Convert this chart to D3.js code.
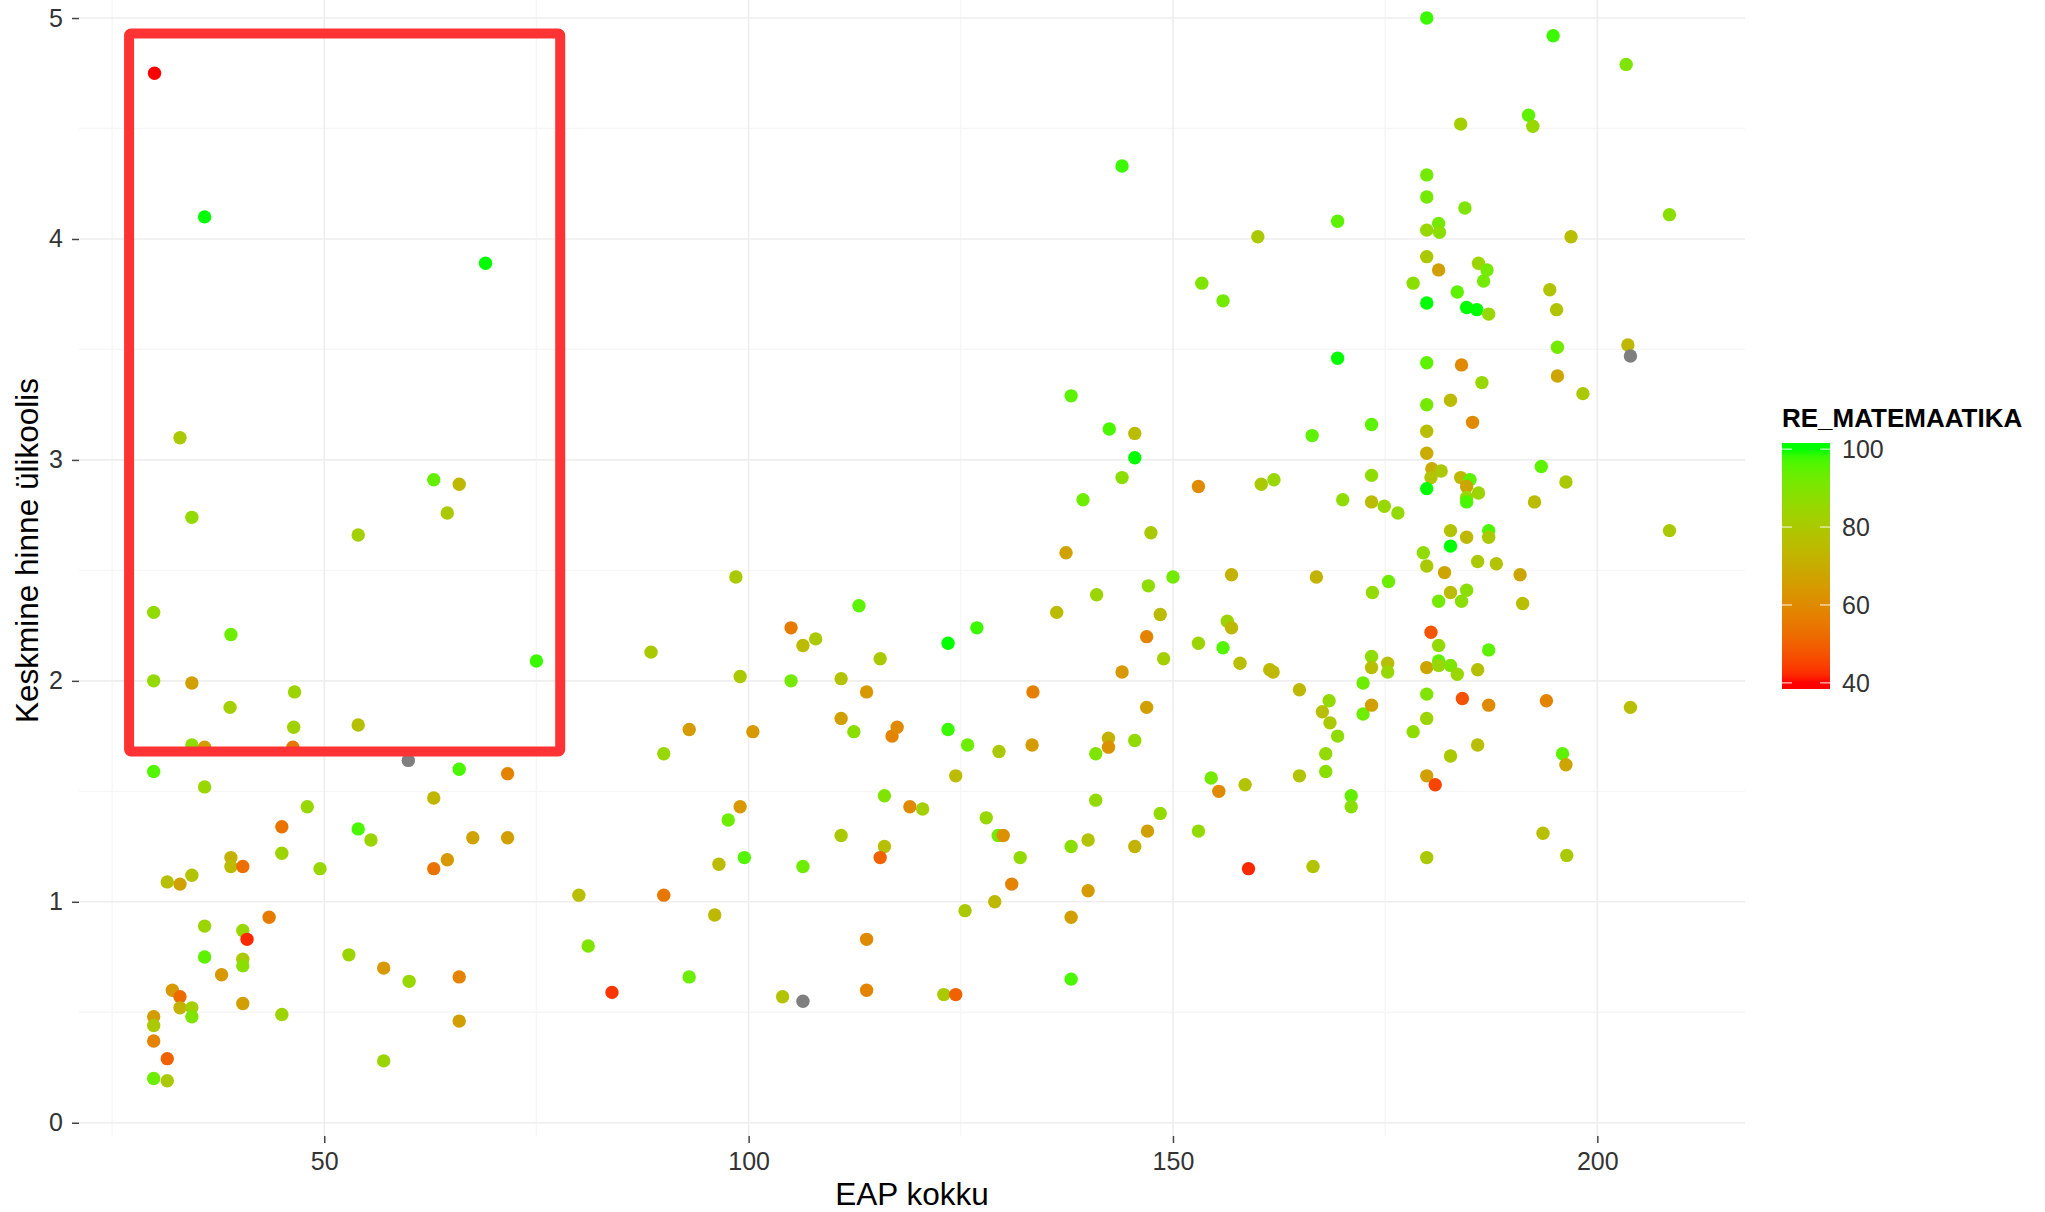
<!DOCTYPE html>
<html>
<head>
<meta charset="utf-8">
<script src="https://cdn.jsdelivr.net/npm/d3@7"></script>
<style>
  html, body { margin: 0; padding: 0; background: #ffffff; }
  svg { display: block; font-family: "Liberation Sans", Arial, Helvetica, sans-serif; }
</style>
</head>
<body>
<svg id="chart" width="2045" height="1212"></svg>
<script>
// ---- DATA: [EAP kokku, Keskmine hinne ülikoolis, RE_MATEMAATIKA] (null = NA) ----
const pointsLeft = [
  [30.0,4.75,40],[35.9,4.10,100],[69.0,3.89,100],[33.0,3.10,80],[34.4,2.74,86],[62.9,2.91,94],
  [65.9,2.89,74],[54.0,2.66,82],[64.5,2.76,80],[29.9,2.31,86],[39.0,2.21,93],[29.9,2.00,86],
  [34.4,1.99,66],[38.9,1.88,82],[46.5,1.95,84],[46.4,1.79,83],[54.0,1.80,77],[75.0,2.09,98],
  [34.4,1.71,87],[35.9,1.70,65],[46.3,1.70,55],[29.9,1.59,96],[35.9,1.52,85],[48.0,1.43,85],
  [59.9,1.64,null],[65.9,1.60,97],[71.6,1.58,58],[62.9,1.47,73],[45.0,1.34,54],[54.0,1.33,97],
  [55.5,1.28,84],[67.5,1.29,67],[71.6,1.29,66],[39.0,1.20,72],[39.0,1.16,75],[40.4,1.16,53],
  [45.0,1.22,84],[49.5,1.15,85],[64.5,1.19,64],[62.9,1.15,54],[31.5,1.09,77],[33.0,1.08,67],
  [34.4,1.12,78],[43.5,0.93,56],[35.9,0.89,84],[40.4,0.87,85],[40.9,0.83,42],[35.9,0.75,95],
  [40.4,0.74,80],[40.4,0.71,88],[37.9,0.67,64],[52.9,0.76,84],[57.0,0.70,64],[60.0,0.64,85],
  [65.9,0.66,58],[32.1,0.60,64],[33.0,0.57,52],[33.0,0.52,72],[34.4,0.52,82],[34.4,0.48,90],
  [40.4,0.54,66],[45.0,0.49,84],[65.9,0.46,66],[29.9,0.48,65],[29.9,0.44,80],[29.9,0.37,58],
  [31.5,0.29,50],[29.9,0.20,93],[31.5,0.19,80],[57.0,0.28,84]
];
const pointsMid = [
  [80.0,1.03,76],[81.1,0.80,90],[83.9,0.59,43],[88.5,2.13,80],[90.0,1.67,85],[90.0,1.03,55],
  [93.0,1.78,65],[93.0,0.66,93],[96.0,0.94,74],[96.5,1.17,75],[97.6,1.37,93],[98.5,2.47,80],
  [99.0,2.02,80],[99.0,1.43,64],[99.5,1.20,96],[100.5,1.77,64],[104.0,0.57,78],[105.0,2.24,56],
  [105.0,2.00,92],[106.4,2.16,75],[107.9,2.19,80],[106.4,1.16,93],[106.4,0.55,null],[110.9,2.01,78],
  [110.9,1.83,66],[112.4,1.77,88],[110.9,1.30,80],[113.0,2.34,95],[113.9,1.95,64],[113.9,0.83,60],
  [113.9,0.60,58],[115.5,2.10,80],[116.0,1.48,90],[116.0,1.25,76],[115.5,1.20,50],[116.9,1.75,58],
  [117.5,1.79,60],[119.0,1.43,60],[120.5,1.42,82],[123.0,0.58,80],[124.4,0.58,50],[123.5,2.17,100],
  [123.5,1.78,98],[124.4,1.57,75],[125.5,0.96,80],[125.8,1.71,93],[126.9,2.24,98],[128.0,1.38,85],
  [129.0,1.00,74],[129.5,1.68,80],[129.4,1.30,92],[130.0,1.30,62],[131.0,1.08,58],[132.0,1.20,86],
  [133.5,1.95,57],[133.4,1.71,65]
];
const pointsRight = [
  [136.3,2.31,75],[137.4,2.58,67],[138.0,3.29,95],[138.0,1.25,88],[138.0,0.93,66],[138.0,0.65,97],
  [139.4,2.82,93],[140.0,1.28,78],[140.0,1.05,65],[141.0,2.39,84],[140.9,1.67,90],[140.9,1.46,86],
  [142.4,1.74,72],[142.4,1.70,62],[142.5,3.14,97],[144.0,2.92,88],[144.0,4.33,98],[144.0,2.04,64],
  [145.5,3.12,75],[145.5,3.01,100],[145.5,1.73,86],[145.5,1.25,72],[147.4,2.67,80],[147.1,2.43,87],
  [146.9,2.20,58],[146.9,1.88,66],[147.0,1.32,66],[148.5,2.30,75],[148.9,2.10,82],[148.5,1.40,86],
  [150.0,2.47,92],[153.0,2.88,60],[153.0,2.17,84],[153.0,1.32,86],[153.4,3.80,90],[154.5,1.56,92],
  [155.4,1.50,60],[155.9,3.72,92],[155.9,2.15,96],[156.4,2.27,84],[156.9,2.24,74],[156.9,2.48,72],
  [157.9,2.08,76],[158.5,1.53,78],[158.9,1.15,42],[160.0,4.01,80],[160.4,2.89,80],[161.9,2.91,85],
  [161.4,2.05,74],[161.8,2.04,74],[164.9,1.96,74],[164.9,1.57,78],[166.4,3.11,95],[166.9,2.47,72],
  [166.5,1.16,78],[167.6,1.86,76],[168.4,1.91,86],[168.0,1.67,86],[168.0,1.59,88],[168.5,1.81,80],
  [169.4,1.75,87],[169.4,4.08,95],[169.4,3.46,100],[170.0,2.82,87],[171.0,1.48,94],[171.0,1.43,88],
  [172.4,1.99,93],[172.4,1.85,93],[173.4,3.16,95],[173.4,2.93,87],[173.4,2.81,75],[173.5,2.40,86],
  [173.4,2.11,87],[173.4,2.06,76],[173.4,1.89,66],[174.9,2.79,85],[175.4,2.45,93],[175.3,2.08,76],
  [175.3,2.04,85],[176.5,2.76,86]
];
const pointsCluster = [
  [179.9,5.00,98],[194.8,4.92,98],[203.4,4.79,90],[183.9,4.52,82],[191.9,4.56,95],[192.4,4.51,85],
  [179.9,4.29,92],[179.9,4.19,92],[184.4,4.14,90],[208.5,4.11,88],[179.9,4.04,85],[181.3,4.07,92],
  [181.4,4.03,88],[196.9,4.01,76],[179.9,3.92,80],[181.3,3.86,66],[178.3,3.80,88],[186.0,3.89,84],
  [187.0,3.86,92],[186.6,3.81,92],[183.5,3.76,95],[179.9,3.71,100],[184.6,3.69,100],[185.8,3.68,100],
  [187.2,3.66,85],[194.4,3.77,78],[195.2,3.68,78],[195.3,3.51,92],[203.6,3.52,74],[203.9,3.47,null],
  [179.9,3.44,95],[184.0,3.43,60],[186.4,3.35,85],[195.3,3.38,68],[198.3,3.30,80],[179.9,3.25,92],
  [182.7,3.27,75],[185.3,3.17,60],[179.9,3.13,76],[179.9,3.03,70],[180.5,2.96,70],[181.6,2.95,80],
  [180.4,2.92,78],[179.9,2.87,100],[183.9,2.92,74],[185.0,2.91,95],[184.6,2.88,68],[184.6,2.83,85],
  [184.6,2.81,97],[186.0,2.85,84],[193.4,2.97,95],[196.3,2.90,80],[192.6,2.81,75],[182.7,2.68,78],
  [184.6,2.65,74],[182.7,2.61,100],[187.2,2.68,97],[187.2,2.65,80],[208.5,2.68,80],[179.5,2.58,87],
  [179.9,2.52,80],[185.9,2.54,80],[188.1,2.53,78],[182.0,2.49,68],[190.9,2.48,68],[182.7,2.40,75],
  [184.6,2.41,88],[184.0,2.36,88],[181.3,2.36,92],[191.2,2.35,76],[180.4,2.22,48],[181.3,2.16,86],
  [187.2,2.14,95],[179.9,2.06,68],[181.3,2.09,95],[181.3,2.07,85],[182.7,2.07,90],[183.5,2.03,85],
  [185.9,2.05,77],[179.9,1.94,90],[184.1,1.92,47],[187.2,1.89,60],[194.0,1.91,58],[203.9,1.88,76],
  [179.9,1.83,84],[178.3,1.77,87],[182.7,1.66,80],[185.9,1.71,76],[195.9,1.67,95],[196.3,1.62,68],
  [179.9,1.57,66],[180.9,1.53,45],[179.9,1.20,80],[193.6,1.31,76],[196.4,1.21,80]
];
const xTicks = [50, 100, 150, 200];
const xMinorTicks = [25, 75, 125, 175];
const yTicks = [0, 1, 2, 3, 4, 5];
const yMinorTicks = [0.5, 1.5, 2.5, 3.5, 4.5];
const legendTicks = [40, 60, 80, 100];
const colorLimits = [40, 100];
const xDomain = [21.1, 217.4];
const yDomain = [-0.06, 5.24];
const highlightBox = { x0: 27.0, x1: 77.8, y0: 1.68, y1: 4.93 };

// ---- LAYOUT ----
const panel = { left: 79, right: 1745, top: -35, bottom: 1136 };
const svg = d3.select("#chart");

const x = d3.scaleLinear().domain(xDomain).range([panel.left, panel.right]);
const y = d3.scaleLinear().domain(yDomain).range([panel.bottom, panel.top]);
const color = d3.scaleLinear().domain(colorLimits).range(["#ff0000", "#00ff00"])
  .interpolate(d3.interpolateLab).clamp(true);

// gridlines
const grid = svg.append("g");
grid.selectAll(".ymin").data(yMinorTicks).join("line")
  .attr("x1", panel.left).attr("x2", panel.right)
  .attr("y1", d => y(d)).attr("y2", d => y(d))
  .attr("stroke", "#f6f6f6").attr("stroke-width", 1.3);
grid.selectAll(".xmin").data(xMinorTicks).join("line")
  .attr("y1", Math.max(0, panel.top)).attr("y2", panel.bottom)
  .attr("x1", d => x(d)).attr("x2", d => x(d))
  .attr("stroke", "#f6f6f6").attr("stroke-width", 1.3);
grid.selectAll(".ymaj").data(yTicks).join("line")
  .attr("x1", panel.left).attr("x2", panel.right)
  .attr("y1", d => y(d)).attr("y2", d => y(d))
  .attr("stroke", "#eeeeee").attr("stroke-width", 1.6);
grid.selectAll(".xmaj").data(xTicks).join("line")
  .attr("y1", Math.max(0, panel.top)).attr("y2", panel.bottom)
  .attr("x1", d => x(d)).attr("x2", d => x(d))
  .attr("stroke", "#eeeeee").attr("stroke-width", 1.6);

// axes
const xAxis = svg.append("g").attr("transform", `translate(0,${panel.bottom})`)
  .call(d3.axisBottom(x).tickValues(xTicks).tickSize(7).tickPadding(9).tickFormat(d3.format("d")));
const yAxis = svg.append("g").attr("transform", `translate(${panel.left},0)`)
  .call(d3.axisLeft(y).tickValues(yTicks).tickSize(7).tickPadding(9).tickFormat(d3.format("d")));
[xAxis, yAxis].forEach(a => {
  a.select(".domain").remove();
  a.selectAll(".tick line").attr("stroke", "#444").attr("stroke-width", 1.5);
  a.selectAll(".tick text").attr("fill", "#333").attr("font-size", 25)
    .attr("font-family", "Liberation Sans, Arial, sans-serif");
});

// axis titles
svg.append("text").attr("x", (panel.left + panel.right) / 2).attr("y", 1205)
  .attr("text-anchor", "middle").attr("font-size", 31.5).attr("fill", "#000")
  .text("EAP kokku");
svg.append("text")
  .attr("transform", `translate(38,${(panel.top + panel.bottom) / 2}) rotate(-90)`)
  .attr("text-anchor", "middle").attr("font-size", 31.5).attr("fill", "#000")
  .text("Keskmine hinne ülikoolis");

// points
const allPoints = [].concat(pointsLeft, pointsMid, pointsRight, pointsCluster);
svg.append("g").selectAll("circle").data(allPoints).join("circle")
  .attr("cx", d => x(d[0])).attr("cy", d => y(d[1])).attr("r", 6.7)
  .attr("fill", d => d[2] == null ? "#7f7f7f" : color(d[2]));

// highlight box annotation
svg.append("rect")
  .attr("x", x(highlightBox.x0)).attr("y", y(highlightBox.y1))
  .attr("width", x(highlightBox.x1) - x(highlightBox.x0))
  .attr("height", y(highlightBox.y0) - y(highlightBox.y1))
  .attr("fill", "none").attr("stroke", "#ff3333").attr("stroke-width", 10)
  .attr("stroke-linejoin", "round").attr("rx", 2);

// legend (colourbar)
const bar = { x: 1782, y: 443, w: 48, h: 246 };
const nbin = 20;
const legScale = d3.scaleLinear().domain(colorLimits)
  .range([bar.y + bar.h - bar.h * 0.5 / nbin, bar.y + bar.h * 0.5 / nbin]);
const defs = svg.append("defs");
const grad = defs.append("linearGradient").attr("id", "cbar")
  .attr("x1", 0).attr("y1", 1).attr("x2", 0).attr("y2", 0);
const stopVals = d3.range(colorLimits[0], colorLimits[1] + 0.001, 2);
grad.selectAll("stop").data(stopVals).join("stop")
  .attr("offset", v => (bar.y + bar.h - legScale(v)) / bar.h)
  .attr("stop-color", v => color(v));
svg.append("text").attr("x", bar.x).attr("y", 427)
  .attr("font-size", 26).attr("font-weight", "bold").attr("fill", "#000")
  .text("RE_MATEMAATIKA");
svg.append("rect").attr("x", bar.x).attr("y", bar.y).attr("width", bar.w).attr("height", bar.h)
  .attr("fill", "url(#cbar)");
const lt = svg.append("g");
lt.selectAll(".tl").data(legendTicks).join("line")
  .attr("x1", bar.x).attr("x2", bar.x + 10)
  .attr("y1", d => legScale(d)).attr("y2", d => legScale(d))
  .attr("stroke", "#ffffff").attr("stroke-width", 1.2).attr("opacity", 0.8);
lt.selectAll(".tr").data(legendTicks).join("line")
  .attr("x1", bar.x + bar.w - 10).attr("x2", bar.x + bar.w)
  .attr("y1", d => legScale(d)).attr("y2", d => legScale(d))
  .attr("stroke", "#ffffff").attr("stroke-width", 1.2).attr("opacity", 0.8);
lt.selectAll("text").data(legendTicks).join("text")
  .attr("x", 1842).attr("y", d => legScale(d)).attr("dy", "0.36em")
  .attr("font-size", 25).attr("fill", "#333")
  .text(d => d);
</script>
</body>
</html>
